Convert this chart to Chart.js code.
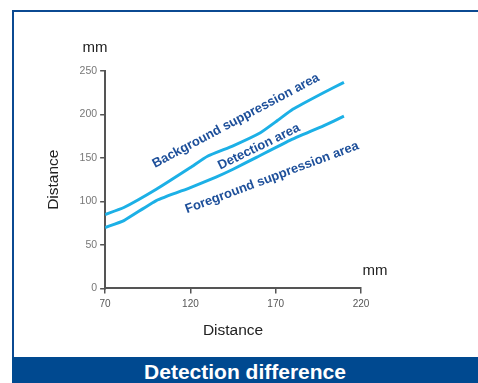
<!DOCTYPE html>
<html>
<head>
<meta charset="utf-8">
<script src="https://cdn.jsdelivr.net/npm/chart.js@4.4.1/dist/chart.umd.min.js"></script>
<style>
  html, body { margin: 0; padding: 0; background: #fff; }
  body { width: 478px; height: 383px; position: relative; overflow: hidden; font-family: "Liberation Sans", Arial, sans-serif; }
  #frame { position: absolute; left: 12px; top: 10px; width: 478px; height: 400px; border: 2px solid #0b4a92; box-sizing: border-box; }
  #banner { position: absolute; left: 12px; top: 357px; width: 466px; height: 26px; background: #004990; color: #fff;
            font-weight: bold; font-size: 21px; line-height: 30px; text-align: center; }
  #chart { position: absolute; left: 0; top: 0; }
</style>
</head>
<body>
<div id="frame"></div>
<canvas id="chart" width="478" height="383"></canvas>
<div id="banner">Detection difference</div>
<script>
const xTicks = [70, 120, 170, 220];
const yTicks = [0, 50, 100, 150, 200, 250];

const upperX = [70, 81, 100, 120, 130, 145, 161, 171, 180, 198, 210];
const upperY = [85, 93, 114, 139, 152, 164, 179, 193, 206, 225, 237];

const lowerX = [70, 81, 100, 120, 135, 145, 159, 178, 198, 210];
const lowerY = [70, 78, 101, 116, 128, 137, 151, 170, 187, 198];

const areaLabels = ['Background suppression area', 'Detection area', 'Foreground suppression area'];
const areaX = [146.7, 160.2, 167.8];
const areaY = [192.7, 162.8, 127.3];
const areaAngle = [-28, -26, -20.5];

const toPoints = (xs, ys) => xs.map((x, i) => ({ x, y: ys[i] }));

const extraText = {
    id: 'extraText',
    afterDraw(chart) {
        const { ctx, scales: { x, y }, chartArea } = chart;
        ctx.save();
        // area labels
        ctx.fillStyle = '#1d4f9a';
        ctx.font = 'bold 13px "Liberation Sans", Arial, sans-serif';
        ctx.textAlign = 'center';
        ctx.textBaseline = 'middle';
        areaLabels.forEach((t, i) => {
            ctx.save();
            ctx.translate(x.getPixelForValue(areaX[i]), y.getPixelForValue(areaY[i]));
            ctx.rotate(areaAngle[i] * Math.PI / 180);
            ctx.fillText(t, 0, 0);
            ctx.restore();
        });
        // unit labels
        ctx.fillStyle = '#222';
        ctx.font = '15px "Liberation Sans", Arial, sans-serif';
        ctx.fillText('mm', chartArea.left - 10, chartArea.top - 23);
        ctx.fillText('mm', chartArea.right + 14, chartArea.bottom - 18);
        ctx.restore();
    }
};

new Chart(document.getElementById('chart'), {
    type: 'line',
    data: {
        datasets: [
            {
                data: toPoints(upperX, upperY),
                borderColor: '#1cb0e6',
                borderWidth: 3,
                pointRadius: 0,
                tension: 0.15
            },
            {
                data: toPoints(lowerX, lowerY),
                borderColor: '#1cb0e6',
                borderWidth: 3,
                pointRadius: 0,
                tension: 0.15
            }
        ]
    },
    options: {
        responsive: false,
        animation: false,
        layout: { padding: { left: 40, top: 71, right: 117, bottom: 39 } },
        plugins: { legend: { display: false }, tooltip: { enabled: false } },
        scales: {
            x: {
                type: 'linear',
                min: 70,
                max: 220,
                afterBuildTicks: axis => { axis.ticks = xTicks.map(v => ({ value: v })); },
                grid: { drawOnChartArea: false, drawTicks: true, tickLength: 5, color: '#555', lineWidth: 1.5 },
                border: { color: '#555', width: 2 },
                ticks: { color: '#555', font: { size: 10, family: '"Liberation Sans", Arial' }, padding: 5 },
                title: { display: true, text: 'Distance', color: '#222', font: { size: 15.5, family: '"Liberation Sans", Arial' }, padding: { top: 6 } }
            },
            y: {
                min: 0,
                max: 250,
                afterBuildTicks: axis => { axis.ticks = yTicks.map(v => ({ value: v })); },
                grid: { drawOnChartArea: false, drawTicks: true, tickLength: 5, color: '#555', lineWidth: 1.5 },
                border: { color: '#555', width: 2 },
                ticks: { color: '#777', font: { size: 10.5, family: '"Liberation Sans", Arial' }, padding: 3 },
                title: { display: true, text: 'Distance', color: '#222', font: { size: 15.5, family: '"Liberation Sans", Arial' }, padding: { bottom: 14 } }
            }
        }
    },
    plugins: [extraText]
});
</script>
</body>
</html>
